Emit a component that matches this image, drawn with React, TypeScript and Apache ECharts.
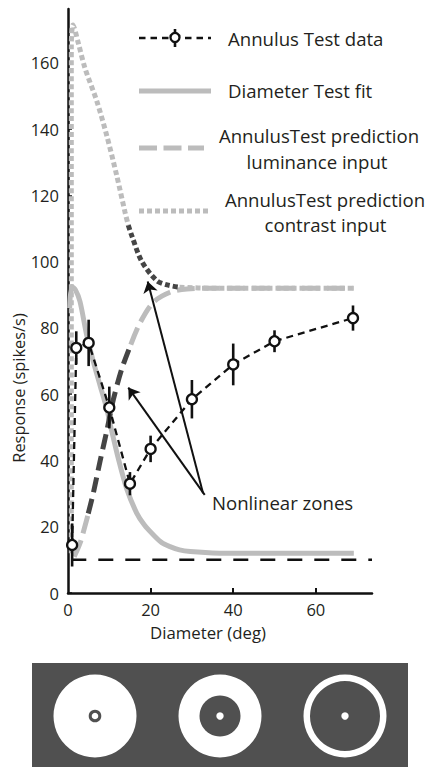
import React, { useEffect, useRef } from 'react';
import * as echarts from 'echarts';

// Annulus Test data (diameter in deg, response in spikes/s, error bar half-length)
const dataX = [1, 2, 5, 10, 15, 20, 30, 40, 50, 69];
const dataY = [14.5, 74, 75.5, 56, 33, 43.5, 58.5, 69, 76, 83];
const dataErr = [6.5, 5, 7, 6.3, 3.5, 4, 5.8, 6.3, 3.3, 3.8];

// Spontaneous / baseline level
const baselineLine = [[0.8, 10], [73.6, 10]];

// Diameter Test fit
const fitCurve = [
  [0.4, 86], [0.9, 92.5], [1.8, 91.5], [2.9, 88], [4.5, 78], [6.1, 70], [7.8, 62.5],
  [9.4, 55.5], [10.2, 51], [12.2, 40.5], [14.2, 31.5], [16.6, 24.2], [18.5, 20.5],
  [20.7, 17.5], [22.7, 15.2], [24.7, 14], [27, 13], [29.6, 12.5], [35, 12.1], [45, 12], [69.2, 12],
];

// AnnulusTest prediction, luminance input (split at nonlinear zone)
const lumLow = [[1.5, 11], [2.9, 15], [4.5, 22], [4.9, 24]];
const lumNonlinear = [[4.9, 24], [6.1, 30], [7.8, 40], [9.4, 49], [11, 58.5], [13, 67.6], [15.2, 75]];
const lumHigh = [[15.2, 75], [17.5, 81.7], [20.7, 87.8], [24.7, 90.8], [28.8, 91.8], [35, 92], [69.2, 92]];

// AnnulusTest prediction, contrast input (split at nonlinear zone)
const conHigh = [
  [0.8, 12], [0.8, 165], [1.2, 171.5], [2.5, 166], [4.1, 158.5], [7, 148.4], [9.4, 138],
  [11.8, 126], [13.8, 115], [14.6, 111],
];
const conNonlinear = [[14.6, 111], [15.4, 108], [17.9, 100], [21.5, 94.3], [24, 93], [27, 92.3]];
const conFlat = [[27, 92.3], [35, 92], [69.2, 92]];

// Arrows to "Nonlinear zones"
const arrowLines = [
  [[33.1, 29.6], [14.6, 62]],
  [[32.7, 30.1], [19.3, 94]],
];

const xTickValues = [0, 20, 40, 60];
const yTickValues = [0, 20, 40, 60, 80, 100, 120, 140, 160];
const legendLabels = [
  'Annulus Test data',
  'Diameter Test fit',
  'AnnulusTest prediction\nluminance input',
  'AnnulusTest prediction\ncontrast input',
];
const xAxisTitle = 'Diameter (deg)';
const yAxisTitle = 'Response (spikes/s)';
const annotation = 'Nonlinear zones';

const FONT = '"Open Sans"';
const TXT = '#231f20';
const LIGHT = '#bcbcbc';
const DARK = '#454545';
const PANEL = '#505050';

export default function App() {
  const ref = useRef<HTMLDivElement>(null);
  useEffect(() => {
    document.body.style.margin = '0';
    const chart = echarts.init(ref.current!, null, { renderer: 'svg' });
    const lineSeries = (data: number[][], color: string, width: number, type: any, z: number) => ({
      type: 'line',
      data,
      showSymbol: false,
      symbol: 'none',
      smooth: 0.3,
      lineStyle: { color, width, type, cap: 'butt' },
      z,
      silent: true,
    });
    const [l0, l1, l2, l3] = legendLabels;
    const lumLines = l2.split('\n');
    const conLines = l3.split('\n');
    const textStyle = (text: string, align: string, size = 18.6) => ({
      text,
      fontSize: size,
      fontFamily: FONT,
      fill: TXT,
      align,
      verticalAlign: 'middle',
    });
    chart.setOption({
      animation: false,
      grid: { left: 68, top: 9, width: 304, height: 584, outerBoundsMode: 'none' },
      xAxis: {
        type: 'value',
        min: 0,
        max: 73.6,
        interval: 20,
        axisLine: { show: true, lineStyle: { color: '#111', width: 2.5 } },
        axisTick: { show: true, inside: true, length: 5, lineStyle: { color: '#111', width: 2 }, customValues: [20, 40, 60] },
        axisLabel: { customValues: xTickValues, color: TXT, fontSize: 16.5, fontFamily: FONT, margin: 8 },
        splitLine: { show: false },
      },
      yAxis: {
        type: 'value',
        min: 0,
        max: 176.3,
        interval: 20,
        axisLine: { show: true, lineStyle: { color: '#111', width: 2.5 } },
        axisTick: { show: true, inside: true, length: 4, lineStyle: { color: '#111', width: 1.5 }, customValues: yTickValues },
        axisLabel: { customValues: yTickValues, color: TXT, fontSize: 16.5, fontFamily: FONT, margin: 9 },
        splitLine: { show: false },
      },
      series: [
        lineSeries(fitCurve, LIGHT, 5, 'solid', 2),
        lineSeries(lumLow, LIGHT, 5, [18, 7], 2),
        lineSeries(lumNonlinear, DARK, 5, [15, 7], 3),
        lineSeries(lumHigh, LIGHT, 5, [18, 7], 2),
        lineSeries(conHigh, LIGHT, 5, [5, 3], 2),
        lineSeries(conNonlinear, DARK, 5, [5, 3], 3),
        lineSeries(conFlat, LIGHT, 5, [5, 3], 2),
        { ...lineSeries(baselineLine, '#111', 2.5, [15, 12], 4), smooth: false },
        {
          type: 'custom',
          silent: true,
          z: 5,
          renderItem: (_p: any, api: any) => {
            const x = api.value(0);
            const a = api.coord([x, api.value(1)]);
            const b = api.coord([x, api.value(2)]);
            return {
              type: 'line',
              shape: { x1: a[0], y1: a[1], x2: b[0], y2: b[1] },
              style: { stroke: '#111', lineWidth: 2.6 },
            };
          },
          encode: { x: 0, y: [1, 2] },
          data: dataX.map((x, i) => [x, dataY[i] - dataErr[i], dataY[i] + dataErr[i]]),
        },
        {
          type: 'line',
          data: dataX.map((x, i) => [x, dataY[i]]),
          symbol: 'circle',
          symbolSize: 10,
          itemStyle: { color: '#fff', borderColor: '#111', borderWidth: 2.3 },
          lineStyle: { color: '#111', width: 2.3, type: [7, 5] },
          z: 6,
          silent: true,
        },
        {
          type: 'lines',
          coordinateSystem: 'cartesian2d',
          symbol: ['none', 'arrow'],
          symbolSize: [8, 11],
          lineStyle: { color: '#111', width: 2, opacity: 1 },
          data: arrowLines.map((c) => ({ coords: c })),
          z: 7,
          silent: true,
        },
      ],
      graphic: [
        // axis titles and annotation
        { type: 'text', x: 18, y: 388, rotation: Math.PI / 2, style: textStyle(yAxisTitle, 'center', 16.4) },
        { type: 'text', x: 208, y: 632, style: textStyle(xAxisTitle, 'center', 16.8) },
        { type: 'text', x: 212, y: 502, style: textStyle(annotation, 'left') },
        // legend symbols
        { type: 'line', shape: { x1: 139, y1: 38, x2: 211, y2: 38 }, style: { stroke: '#111', lineWidth: 2.3, lineDash: [6.5, 5] } },
        { type: 'line', shape: { x1: 175, y1: 29, x2: 175, y2: 47 }, style: { stroke: '#111', lineWidth: 2.6 } },
        { type: 'circle', shape: { cx: 175, cy: 37.5, r: 4.5 }, style: { fill: '#fff', stroke: '#111', lineWidth: 2.3 } },
        { type: 'line', shape: { x1: 139, y1: 91, x2: 211, y2: 91 }, style: { stroke: LIGHT, lineWidth: 5 } },
        { type: 'line', shape: { x1: 139, y1: 148, x2: 204, y2: 148 }, style: { stroke: LIGHT, lineWidth: 5, lineDash: [18, 6.5] } },
        { type: 'line', shape: { x1: 139, y1: 211, x2: 210, y2: 211 }, style: { stroke: LIGHT, lineWidth: 5, lineDash: [5, 3] } },
        // legend texts
        { type: 'text', x: 228, y: 38, style: textStyle(l0, 'left') },
        { type: 'text', x: 228, y: 90.5, style: textStyle(l1, 'left') },
        { type: 'text', x: 319, y: 135.5, style: textStyle(lumLines[0], 'center') },
        { type: 'text', x: 317, y: 161, style: textStyle(lumLines[1], 'center') },
        { type: 'text', x: 325, y: 199, style: textStyle(conLines[0], 'center') },
        { type: 'text', x: 325.5, y: 224, style: textStyle(conLines[1], 'center') },
        // stimulus panel
        { type: 'rect', shape: { x: 32, y: 663, width: 376, height: 110 }, style: { fill: PANEL } },
        { type: 'circle', shape: { cx: 95, cy: 716, r: 41.5 }, style: { fill: '#fff' } },
        { type: 'circle', shape: { cx: 95, cy: 716, r: 4.8 }, style: { fill: '#fff', stroke: PANEL, lineWidth: 3 } },
        { type: 'circle', shape: { cx: 220, cy: 716, r: 41.5 }, style: { fill: '#fff' } },
        { type: 'circle', shape: { cx: 220, cy: 716, r: 20.5 }, style: { fill: PANEL } },
        { type: 'circle', shape: { cx: 220, cy: 716, r: 3.7 }, style: { fill: '#fff' } },
        { type: 'ring', shape: { cx: 345, cy: 716, r: 41.5, r0: 35 }, style: { fill: '#fff' } },
        { type: 'circle', shape: { cx: 345, cy: 716, r: 3.7 }, style: { fill: '#fff' } },
      ],
    });
    return () => chart.dispose();
  }, []);
  return <div ref={ref} style={{ width: 429, height: 767 }} />;
}
